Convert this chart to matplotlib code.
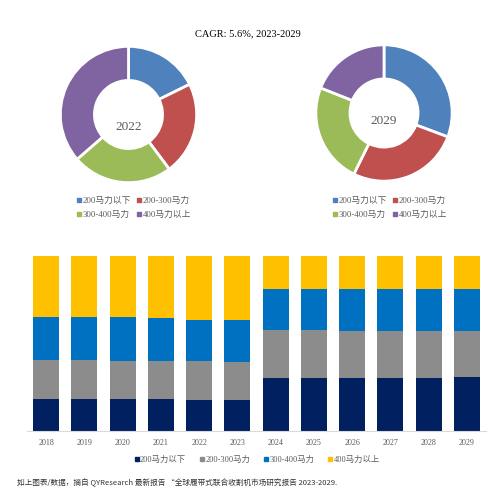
import numpy as np
import matplotlib.pyplot as plt
from matplotlib.lines import Line2D

plt.rcParams['font.family'] = ['Liberation Serif', 'Noto Sans CJK SC', 'DejaVu Sans']

years = ['2018', '2019', '2020', '2021', '2022', '2023',
         '2024', '2025', '2026', '2027', '2028', '2029']
labels = ['200马力以下', '200-300马力', '300-400马力', '400马力以上']

# share in %
below200 = [18.1, 18.5, 18.3, 18.3, 17.7, 17.7, 30.3, 30.1, 30.1, 30.5, 30.5, 30.7]
hp200_300 = [22.5, 21.9, 21.9, 21.9, 22.1, 21.5, 27.2, 27.4, 27.2, 26.8, 26.8, 26.6]
hp300_400 = [24.7, 24.9, 24.9, 24.6, 23.8, 24.2, 23.6, 23.6, 23.7, 23.7, 23.7, 23.7]
above400 = [34.7, 34.7, 34.9, 35.2, 36.4, 36.6, 18.9, 18.9, 19.0, 19.0, 19.0, 19.0]

pie_years = ['2022', '2029']
title = 'CAGR: 5.6%, 2023-2029'
note = '如上图表/数据，摘自 QYResearch 最新报告 “全球履带式联合收割机市场研究报告 2023-2029.'

pie_colors = ['#4F81BD', '#C0504D', '#9BBB59', '#8064A2']
bar_colors = ['#002060', '#8C8C8C', '#0070C0', '#FFC000']
txt_gray = '#595959'

W, H = 502, 500
fig = plt.figure(figsize=(W / 100, H / 100), dpi=100)

fig.text(248 / W, 1 - 34 / H, title, ha='center', va='center', fontsize=7.5, color='black')

series = [below200, hp200_300, hp300_400, above400]

# donuts
centers = [(128.5, 114.5), (384, 113)]
text_y = [126.5, 121]
leg_x = [76, 332]
r = 69.5
order = [0, 2, 1, 3]  # legend fills by column, reference reads by row
for k, yr in enumerate(pie_years):
    cx, cy = centers[k]
    ax = fig.add_axes([(cx - r) / W, 1 - (cy + r) / H, 2 * r / W, 2 * r / H])
    i = years.index(yr)
    vals = [s[i] for s in series]
    ax.pie(vals, colors=pie_colors, startangle=90, counterclock=False, radius=1,
           wedgeprops=dict(width=0.5, edgecolor='white', linewidth=2))
    ax.set_xlim(-1.02, 1.02)
    ax.set_ylim(-1.02, 1.02)
    ax.set_aspect('equal')
    ax.axis('off')
    fig.text(cx / W, 1 - text_y[k] / H, yr, ha='center', va='center',
             fontsize=9.5, color=txt_gray)
    handles = [Line2D([], [], marker='s', linestyle='none', markersize=2.5,
                      color=pie_colors[j]) for j in order]
    fig.legend(handles, [labels[j] for j in order], ncol=2, loc='upper left',
               bbox_to_anchor=(leg_x[k] / W, 1 - 197 / H), frameon=False,
               fontsize=6.3, labelcolor=txt_gray, handlelength=0.6,
               handletextpad=0.15, columnspacing=0.6, labelspacing=0.65,
               borderpad=0, borderaxespad=0)

# stacked bars
bx = fig.add_axes([27 / W, 1 - 431 / H, 459 / W, 175 / H])
x = np.arange(len(years))
bottom = np.zeros(len(years))
for s, c, lab in zip(series, bar_colors, labels):
    bx.bar(x, s, bottom=bottom, width=0.68, color=c, label=lab)
    bottom += np.array(s)
bx.set_xlim(-0.5, len(years) - 0.5)
bx.set_ylim(0, bottom.max())
bx.set_xticks(x)
bx.set_xticklabels(years, fontsize=5.8, color=txt_gray)
bx.tick_params(axis='x', length=0, pad=6)
bx.set_yticks([])
for sp in ['top', 'left', 'right']:
    bx.spines[sp].set_visible(False)
bx.spines['bottom'].set_color('#D9D9D9')
bx.spines['bottom'].set_linewidth(0.8)

handles = [Line2D([], [], marker='s', linestyle='none', markersize=3, color=c)
           for c in bar_colors]
fig.legend(handles, labels, ncol=4, loc='center',
           bbox_to_anchor=(257 / W, 1 - 460 / H), frameon=False, fontsize=6,
           labelcolor=txt_gray, handlelength=0.6, handletextpad=0.1,
           columnspacing=1.6, borderpad=0)

fig.text(17 / W, 1 - 483 / H, note, ha='left', va='center', fontsize=5.5,
         color='#333333', family=['Noto Sans CJK SC', 'DejaVu Sans'])

fig.savefig('out.png', dpi=100)
